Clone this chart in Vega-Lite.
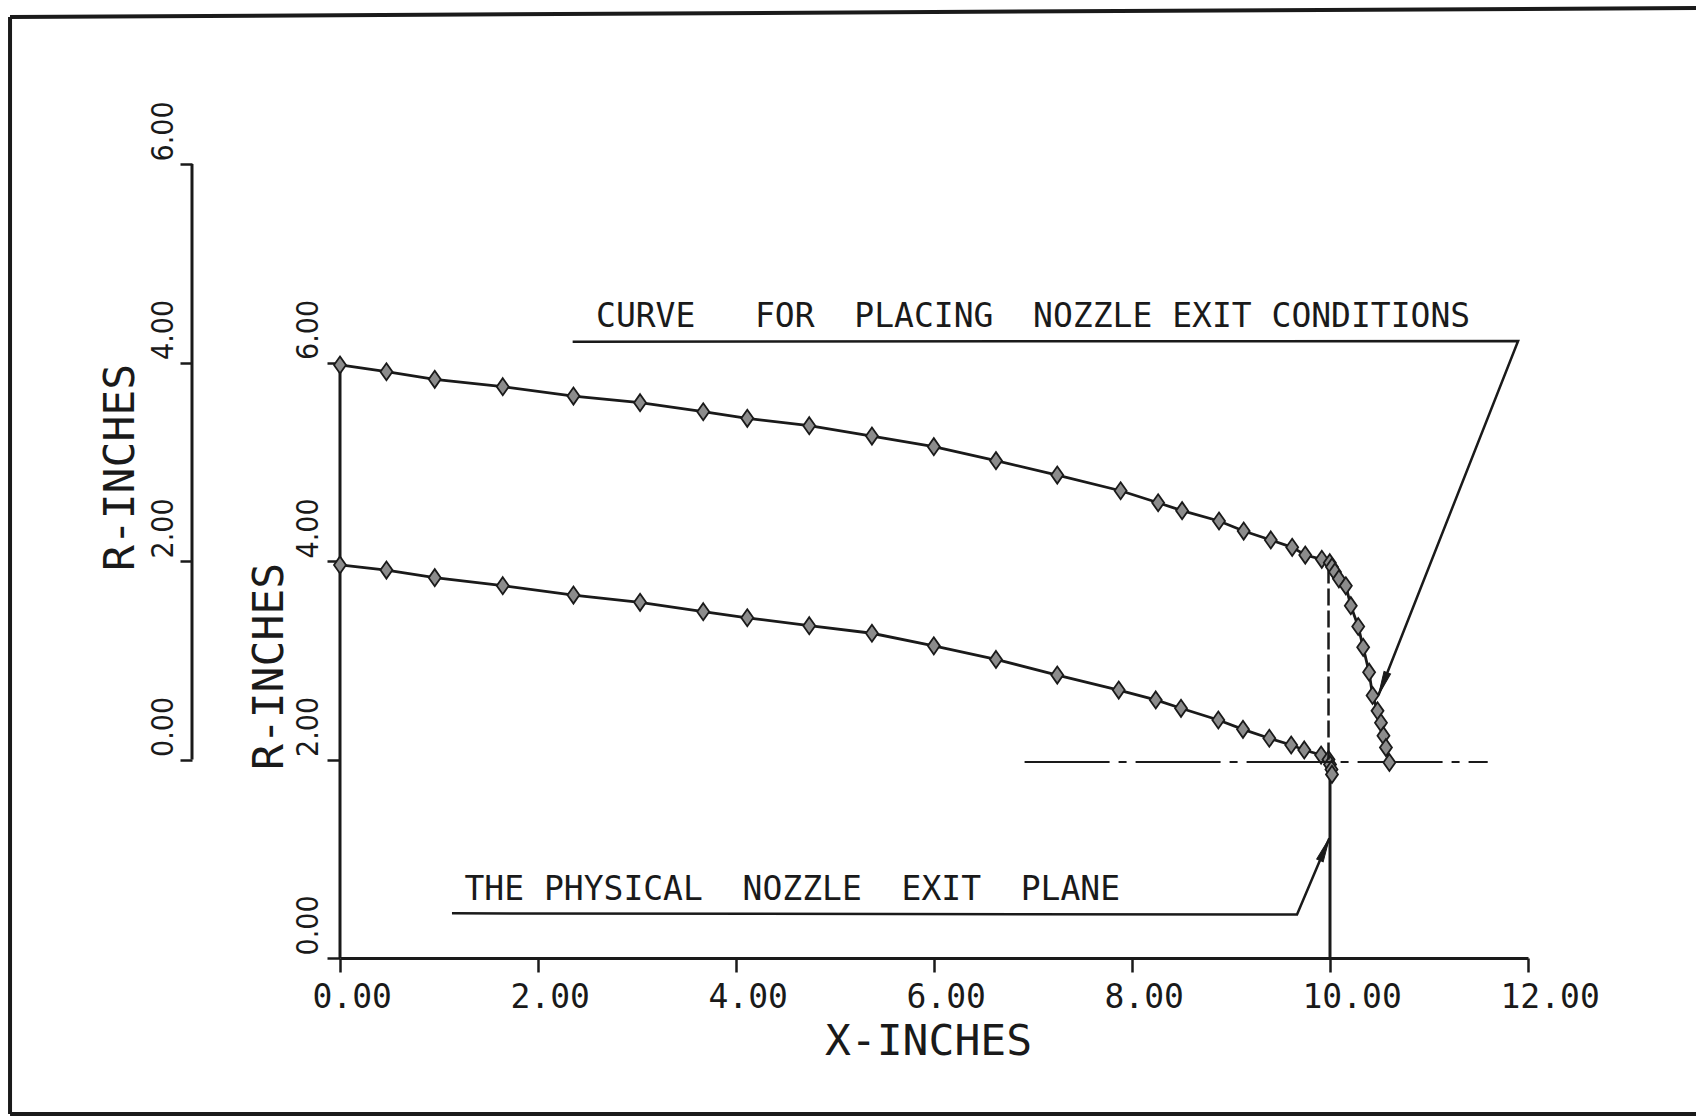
{
  "$schema": "https://vega.github.io/schema/vega-lite/v6.json",
  "width": 1188,
  "height": 794,
  "autosize": {"type": "none"},
  "padding": {"left": 340, "top": 164, "right": 168, "bottom": 159},
  "background": "white",
  "config": {
    "view": {"stroke": null},
    "axis": {
      "grid": false,
      "labelFont": "DejaVu Sans Mono",
      "titleFont": "DejaVu Sans Mono",
      "labelColor": "#1a1a1a",
      "titleColor": "#1a1a1a",
      "domainColor": "#1a1a1a",
      "tickColor": "#1a1a1a",
      "titleFontWeight": "normal",
      "labelFlush": false,
      "labelOverlap": false
    }
  },
  "datasets": {
    "upper": [
      {"x": 0, "y": 3.975}, {"x": 0.469, "y": 3.907}, {"x": 0.957, "y": 3.831}, {"x": 1.644, "y": 3.756},
      {"x": 2.358, "y": 3.662}, {"x": 3.031, "y": 3.595}, {"x": 3.669, "y": 3.504}, {"x": 4.114, "y": 3.438},
      {"x": 4.74, "y": 3.363}, {"x": 5.373, "y": 3.259}, {"x": 5.998, "y": 3.152}, {"x": 6.626, "y": 3.011},
      {"x": 7.245, "y": 2.866}, {"x": 7.885, "y": 2.708}, {"x": 8.264, "y": 2.587}, {"x": 8.506, "y": 2.507},
      {"x": 8.879, "y": 2.403}, {"x": 9.128, "y": 2.302}, {"x": 9.402, "y": 2.212}, {"x": 9.618, "y": 2.138},
      {"x": 9.75, "y": 2.06}, {"x": 9.917, "y": 2.017}, {"x": 9.998, "y": 1.983}, {"x": 10.02, "y": 1.94},
      {"x": 10.05, "y": 1.89}, {"x": 10.09, "y": 1.82}, {"x": 10.16, "y": 1.75}, {"x": 10.21, "y": 1.55},
      {"x": 10.285, "y": 1.34}, {"x": 10.335, "y": 1.13}, {"x": 10.395, "y": 0.88}, {"x": 10.43, "y": 0.645},
      {"x": 10.48, "y": 0.49}, {"x": 10.515, "y": 0.37}, {"x": 10.54, "y": 0.24}, {"x": 10.565, "y": 0.12},
      {"x": 10.6, "y": -0.03}
    ],
    "lower": [
      {"x": 0, "y": 3.96}, {"x": 0.469, "y": 3.909}, {"x": 0.957, "y": 3.832}, {"x": 1.644, "y": 3.751},
      {"x": 2.358, "y": 3.657}, {"x": 3.031, "y": 3.584}, {"x": 3.669, "y": 3.489}, {"x": 4.114, "y": 3.428},
      {"x": 4.74, "y": 3.348}, {"x": 5.373, "y": 3.272}, {"x": 5.998, "y": 3.145}, {"x": 6.626, "y": 3.008},
      {"x": 7.245, "y": 2.851}, {"x": 7.866, "y": 2.7}, {"x": 8.24, "y": 2.6}, {"x": 8.495, "y": 2.516},
      {"x": 8.872, "y": 2.398}, {"x": 9.121, "y": 2.304}, {"x": 9.387, "y": 2.214}, {"x": 9.608, "y": 2.146},
      {"x": 9.74, "y": 2.096}, {"x": 9.91, "y": 2.045}, {"x": 9.985, "y": 2.0}, {"x": 10.0, "y": 1.95},
      {"x": 10.015, "y": 1.9}, {"x": 10.02, "y": 1.85}
    ],
    "frame": [
      {"x": -3.333, "y": 9.481, "x2": 13.7, "y2": 9.572},
      {"x": -3.333, "y": -1.572, "x2": -3.333, "y2": 9.481},
      {"x": -3.333, "y": -1.572, "x2": 13.7, "y2": -1.572}
    ],
    "innerLines": [
      {"x": 0, "y": 0, "x2": 0, "y2": 5.99},
      {"x": 10, "y": 0, "x2": 10, "y2": 1.86}
    ],
    "physLeader": [
      {"i": 0, "x": 1.131, "y": 0.45},
      {"i": 1, "x": 9.667, "y": 0.438},
      {"i": 2, "x": 9.993, "y": 1.206}
    ],
    "physTip": [{"x": 9.993, "y": 1.206}],
    "physText": [{"x": 1.257, "y": 0.585, "label": "THE\u00a0PHYSICAL\u00a0\u00a0NOZZLE\u00a0\u00a0EXIT\u00a0\u00a0PLANE"}],
    "outerAxis": [{"x": -1.495, "y": 0, "y2": 6}],
    "centerline": [{"x": 6.915, "x2": 11.593, "y": -0.025}],
    "exitDashed": [{"x": 9.985, "y": 0.0, "y2": 2.0}],
    "curveLeader": [
      {"i": 0, "x": 2.35, "y": 4.21},
      {"i": 1, "x": 11.9, "y": 4.217},
      {"i": 2, "x": 10.49, "y": 0.65}
    ],
    "curveTip": [{"x": 10.49, "y": 0.65}],
    "curveText": [{"x": 2.586, "y": 4.361, "label": "CURVE\u00a0\u00a0\u00a0FOR\u00a0\u00a0PLACING\u00a0\u00a0NOZZLE\u00a0EXIT\u00a0CONDITIONS"}]
  },
  "encoding": {
    "x": {
      "field": "x",
      "type": "quantitative",
      "scale": {"domain": [0, 12], "nice": false, "zero": false},
      "axis": {
        "values": [0, 2, 4, 6, 8, 10, 12],
        "format": ".2f",
        "title": "X-INCHES",
        "domain": true,
        "domainWidth": 3,
        "tickSize": 14,
        "tickWidth": 2.5,
        "labelFontSize": 33,
        "labelAlign": "left",
        "labelBaseline": "alphabetic",
        "labelPadding": 35,
        "labelOffset": -28,
        "titleFontSize": 43,
        "titleX": 588,
        "titleY": 96,
        "titleAlign": "center",
        "titleBaseline": "alphabetic"
      }
    }
  },
  "layer": [
    {
      "encoding": {
        "y": {
          "field": "y",
          "type": "quantitative",
          "scale": {"domain": [0, 8], "nice": false, "zero": false},
          "axis": {
            "orient": "left",
            "values": [0, 2, 4, 6],
            "format": ".2f",
            "title": "R-INCHES",
            "domain": false,
            "tickSize": 13,
            "tickWidth": 2.5,
            "labelAngle": -90,
            "labelAlign": "left",
            "labelBaseline": "alphabetic",
            "labelPadding": 10,
            "labelOffset": -3,
            "labelFont": "Liberation Sans Narrow, DejaVu Sans Condensed, DejaVu Sans Mono",
            "labelFontSize": 30,
            "titleFontSize": 43,
            "titleAngle": -90,
            "titleX": -58,
            "titleY": 502,
            "titleAlign": "center",
            "titleBaseline": "alphabetic"
          }
        }
      },
      "layer": [
        {
          "data": {"name": "frame"},
          "mark": {"type": "rule", "strokeWidth": 4, "color": "#1a1a1a"},
          "encoding": {"x2": {"field": "x2"}, "y2": {"field": "y2"}}
        },
        {
          "data": {"name": "innerLines"},
          "mark": {"type": "rule", "strokeWidth": 3, "color": "#1a1a1a"},
          "encoding": {"x2": {"field": "x2"}, "y2": {"field": "y2"}}
        },
        {
          "data": {"name": "lower"},
          "mark": {"type": "line", "strokeWidth": 2.8, "color": "#1a1a1a"}
        },
        {
          "data": {"name": "lower"},
          "mark": {"type": "point", "shape": "M0,-1.35L0.95,0L0,1.35L-0.95,0Z", "size": 160, "filled": true, "fill": "#8c8c8c", "stroke": "#1a1a1a", "strokeWidth": 1.8, "opacity": 1}
        },
        {
          "data": {"name": "physLeader"},
          "mark": {"type": "line", "strokeWidth": 2.5, "color": "#1a1a1a"},
          "encoding": {"order": {"field": "i", "type": "quantitative"}}
        },
        {
          "data": {"name": "physTip"},
          "mark": {"type": "point", "shape": "M0,0L-0.35,-2.4L0.35,-2.4Z", "size": 400, "angle": 203, "filled": true, "fill": "#1a1a1a", "stroke": "#1a1a1a", "strokeWidth": 1, "opacity": 1}
        },
        {
          "data": {"name": "physText"},
          "mark": {"type": "text", "align": "left", "baseline": "alphabetic", "font": "DejaVu Sans Mono", "fontSize": 33, "color": "#1a1a1a"},
          "encoding": {"text": {"field": "label"}}
        }
      ]
    },
    {
      "encoding": {
        "y": {
          "field": "y",
          "type": "quantitative",
          "scale": {"domain": [-2, 6], "nice": false, "zero": false},
          "axis": {
            "orient": "left",
            "offset": 148,
            "values": [0, 2, 4, 6],
            "format": ".2f",
            "title": "R-INCHES",
            "domain": false,
            "tickSize": 12,
            "tickWidth": 2.5,
            "labelAngle": -90,
            "labelAlign": "left",
            "labelBaseline": "alphabetic",
            "labelPadding": 8,
            "labelOffset": -3,
            "labelFont": "Liberation Sans Narrow, DejaVu Sans Condensed, DejaVu Sans Mono",
            "labelFontSize": 30,
            "titleFontSize": 43,
            "titleAngle": -90,
            "titleX": -59,
            "titleY": 303,
            "titleAlign": "center",
            "titleBaseline": "alphabetic"
          }
        }
      },
      "layer": [
        {
          "data": {"name": "outerAxis"},
          "mark": {"type": "rule", "strokeWidth": 3, "color": "#1a1a1a"},
          "encoding": {"y2": {"field": "y2"}}
        },
        {
          "data": {"name": "centerline"},
          "mark": {"type": "rule", "strokeWidth": 2.2, "color": "#1a1a1a", "strokeDash": [85, 9, 8, 9]},
          "encoding": {"x2": {"field": "x2"}}
        },
        {
          "data": {"name": "exitDashed"},
          "mark": {"type": "rule", "strokeWidth": 2.5, "color": "#1a1a1a", "strokeDash": [17, 5]},
          "encoding": {"y2": {"field": "y2"}}
        },
        {
          "data": {"name": "upper"},
          "mark": {"type": "line", "strokeWidth": 2.8, "color": "#1a1a1a"}
        },
        {
          "data": {"name": "upper"},
          "mark": {"type": "point", "shape": "M0,-1.35L0.95,0L0,1.35L-0.95,0Z", "size": 160, "filled": true, "fill": "#8c8c8c", "stroke": "#1a1a1a", "strokeWidth": 1.8, "opacity": 1}
        },
        {
          "data": {"name": "curveLeader"},
          "mark": {"type": "line", "strokeWidth": 2.5, "color": "#1a1a1a"},
          "encoding": {"order": {"field": "i", "type": "quantitative"}}
        },
        {
          "data": {"name": "curveTip"},
          "mark": {"type": "point", "shape": "M0,0L-0.35,-2.4L0.35,-2.4Z", "size": 400, "angle": 21.5, "filled": true, "fill": "#1a1a1a", "stroke": "#1a1a1a", "strokeWidth": 1, "opacity": 1}
        },
        {
          "data": {"name": "curveText"},
          "mark": {"type": "text", "align": "left", "baseline": "alphabetic", "font": "DejaVu Sans Mono", "fontSize": 33, "color": "#1a1a1a"},
          "encoding": {"text": {"field": "label"}}
        }
      ]
    }
  ],
  "resolve": {"scale": {"y": "independent"}, "axis": {"y": "independent"}}
}
